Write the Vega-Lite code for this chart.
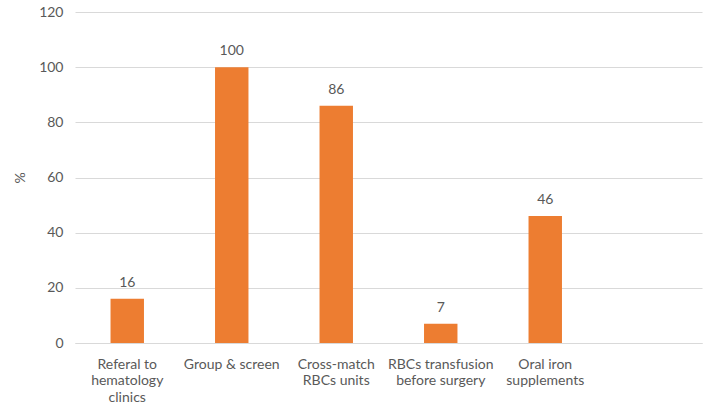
{
  "$schema": "https://vega.github.io/schema/vega-lite/v6.json",
  "width": 627,
  "height": 331,
  "autosize": {"type": "none"},
  "padding": {"left": 75, "top": 12, "right": 13, "bottom": 72},
  "background": "white",
  "config": {
    "view": {"stroke": null},
    "font": "Lato",
    "axis": {"labelFont": "Lato", "titleFont": "Lato", "labelColor": "#595959", "titleColor": "#595959"}
  },
  "data": {
    "values": [
      {"category": "Referal to\nhematology\nclinics", "pct": 16},
      {"category": "Group & screen", "pct": 100},
      {"category": "Cross-match\nRBCs units", "pct": 86},
      {"category": "RBCs transfusion\nbefore surgery", "pct": 7},
      {"category": "Oral iron\nsupplements", "pct": 46}
    ]
  },
  "encoding": {
    "x": {
      "field": "category",
      "type": "nominal",
      "sort": null,
      "scale": {
        "domain": ["Referal to\nhematology\nclinics", "Group & screen", "Cross-match\nRBCs units", "RBCs transfusion\nbefore surgery", "Oral iron\nsupplements", " "],
        "paddingInner": 0.68,
        "paddingOuter": 0.34
      },
      "axis": {
        "title": null,
        "labelAngle": 0,
        "labelExpr": "split(datum.label, '\\n')",
        "labelFontSize": 14,
        "labelLineHeight": 16.5,
        "labelPadding": 14,
        "ticks": false,
        "domainColor": "#d9d9d9",
        "domainWidth": 1
      }
    },
    "y": {
      "field": "pct",
      "type": "quantitative",
      "scale": {"domain": [0, 120]},
      "axis": {
        "title": "%",
        "titleFontSize": 14,
        "titleFontWeight": "normal",
        "titlePadding": 11,
        "values": [0, 20, 40, 60, 80, 100, 120],
        "labelFontSize": 14,
        "labelPadding": 12,
        "ticks": false,
        "domain": false,
        "gridColor": "#d9d9d9",
        "gridWidth": 1
      }
    }
  },
  "layer": [
    {"mark": {"type": "bar", "color": "#ED7D31"}},
    {
      "mark": {"type": "text", "dy": -16, "fontSize": 14, "color": "#595959", "font": "Lato"},
      "encoding": {"text": {"field": "pct", "type": "quantitative"}}
    }
  ]
}
